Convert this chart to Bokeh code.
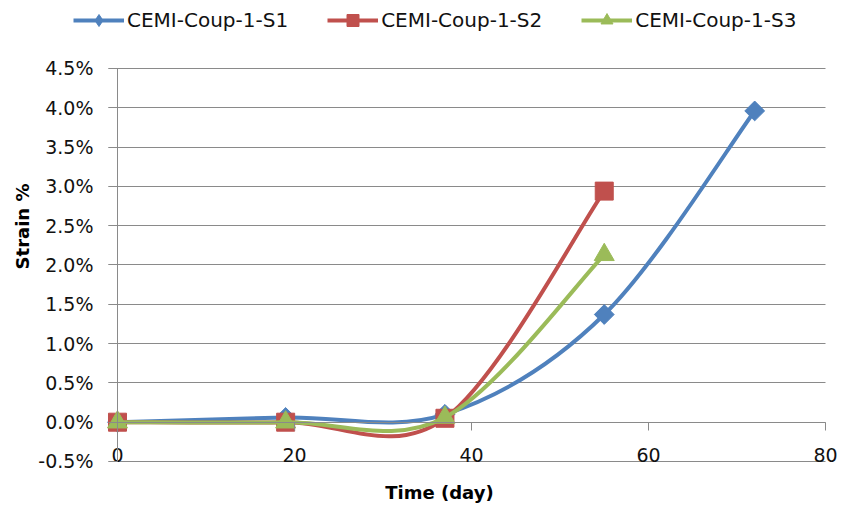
import numpy as np
from bokeh.plotting import figure
from bokeh.models import (Range1d, FixedTicker, PrintfTickFormatter, LinearAxis,
                          Legend, LegendItem, Label, Grid, ColumnDataSource)
from bokeh.embed import file_html
from bokeh.resources import INLINE

# ---- data ----
days_s1 = [0, 19, 37, 55, 72]
strain_s1 = [0.0, 0.06, 0.10, 1.37, 3.96]
days_s2 = [0, 19, 37, 55]
strain_s2 = [0.0, 0.0, 0.05, 2.94]
days_s3 = [0, 19, 37, 55]
strain_s3 = [0.0, 0.0, 0.06, 2.13]
series_names = ["CEMI-Coup-1-S1", "CEMI-Coup-1-S2", "CEMI-Coup-1-S3"]
x_ticks = [0, 20, 40, 60, 80]
y_ticks = [-0.5, 0.0, 0.5, 1.0, 1.5, 2.0, 2.5, 3.0, 3.5, 4.0, 4.5]
x_title = "Time (day)"
y_title = "Strain %"

FONT = "DejaVu Sans"
GRID = "#8a8a8a"
TXT = "#111111"

W, H = 841, 509


def smooth_segments(xs, ys):
    """Bezier control points for an Excel-like smoothed line through the points."""
    x = np.asarray(xs, dtype=float)
    y = np.asarray(ys, dtype=float)
    n = len(x)
    d = dict(x0=[], y0=[], x1=[], y1=[], cx0=[], cy0=[], cx1=[], cy1=[])
    for i in range(n - 1):
        im1 = max(i - 1, 0)
        ip2 = min(i + 2, n - 1)
        d["x0"].append(x[i]); d["y0"].append(y[i])
        d["x1"].append(x[i + 1]); d["y1"].append(y[i + 1])
        d["cx0"].append(x[i] + (x[i + 1] - x[im1]) / 6.0)
        d["cy0"].append(y[i] + (y[i + 1] - y[im1]) / 6.0)
        d["cx1"].append(x[i + 1] - (x[ip2] - x[i]) / 6.0)
        d["cy1"].append(y[i + 1] - (y[ip2] - y[i]) / 6.0)
    return ColumnDataSource(d)


# The frame fills the whole canvas; the ranges are chosen so that the
# plotting area (0..80 days, -0.5..4.5 %) sits where the reference has it.
p = figure(width=W, height=H,
           x_range=Range1d(-13.22, 81.81), y_range=Range1d(-1.1107, 5.3651),
           output_backend="svg", toolbar_location=None,
           x_axis_type=None, y_axis_type=None,
           min_border_left=0, min_border_right=0,
           min_border_top=0, min_border_bottom=0)
p.outline_line_color = None
p.background_fill_color = "white"
p.border_fill_color = "white"

# horizontal gridlines spanning the plot area (small stub left of the axis)
ygrid = Grid(dimension=1, ticker=FixedTicker(ticks=y_ticks),
             cross_bounds=(-1.0, 80.0),
             grid_line_color=GRID, grid_line_width=1)
p.add_layout(ygrid)

# axes crossing at zero (Excel style)
xaxis = LinearAxis(fixed_location=0, ticker=FixedTicker(ticks=x_ticks),
                   bounds=(0, 80),
                   axis_line_color=GRID, axis_line_width=1,
                   major_tick_line_color=GRID, major_tick_in=0, major_tick_out=8,
                   minor_tick_line_color=None,
                   major_label_standoff=18,
                   major_label_text_font=FONT, major_label_text_font_size="19px",
                   major_label_text_color=TXT)
p.add_layout(xaxis, "below")

yaxis = LinearAxis(fixed_location=0, ticker=FixedTicker(ticks=y_ticks),
                   bounds=(-0.5, 4.5),
                   formatter=PrintfTickFormatter(format="%.1f%%"),
                   axis_line_color=GRID, axis_line_width=1,
                   major_tick_line_color=GRID, major_tick_in=0, major_tick_out=9,
                   minor_tick_line_color=None,
                   major_label_standoff=15,
                   major_label_text_font=FONT, major_label_text_font_size="19px",
                   major_label_text_color=TXT)
p.add_layout(yaxis, "left")

# (x, y, colour, plot marker, size, angle, legend marker)
series = [
    (days_s1, strain_s1, "#4F81BD", "square", 14, np.pi / 4, "diamond"),
    (days_s2, strain_s2, "#C0504D", "square", 18, 0.0, "square"),
    (days_s3, strain_s3, "#9BBB59", "triangle", 20, 0.0, "triangle"),
]

items = []
for (xs, ys, color, marker, size, ang, leg_marker), name in zip(series, series_names):
    bz = p.bezier(x0="x0", y0="y0", x1="x1", y1="y1", cx0="cx0", cy0="cy0",
                  cx1="cx1", cy1="cy1", source=smooth_segments(xs, ys),
                  line_color=color, line_width=4)
    if leg_marker == marker:
        sc = p.scatter(xs, ys, marker=marker, size=size, angle=ang,
                       fill_color=color, line_color=color, line_width=1)
        leg_rs = [bz, sc]
    else:
        # small upright diamonds hidden under the rotated squares; they give
        # the legend key its upright diamond symbol
        proxy = p.scatter(xs, ys, marker=leg_marker, size=10,
                          fill_color=color, line_color=color, line_width=1)
        sc = p.scatter(xs, ys, marker=marker, size=size, angle=ang,
                       fill_color=color, line_color=color, line_width=1)
        leg_rs = [bz, proxy]
    items.append(LegendItem(label=name, renderers=leg_rs))

legend = Legend(items=items, orientation="horizontal",
                location=(73, 474),
                padding=0, margin=0, spacing=39, glyph_width=51, glyph_height=30,
                label_standoff=3, label_text_font=FONT, label_text_font_size="20px",
                label_text_color=TXT,
                background_fill_alpha=0, border_line_color=None)
p.add_layout(legend)

p.add_layout(Label(x=21.5, y=H - 226, x_units="screen", y_units="screen",
                   text=y_title, angle=np.pi / 2, text_align="center",
                   text_baseline="middle", text_font=FONT, text_font_size="18px",
                   text_font_style="bold", text_color="#000000"))
p.add_layout(Label(x=439, y=H - 492, x_units="screen", y_units="screen",
                   text=x_title, text_align="center",
                   text_baseline="middle", text_font=FONT, text_font_size="18px",
                   text_font_style="bold", text_color="#000000"))

open("out.html", "w").write(file_html(p, INLINE))
